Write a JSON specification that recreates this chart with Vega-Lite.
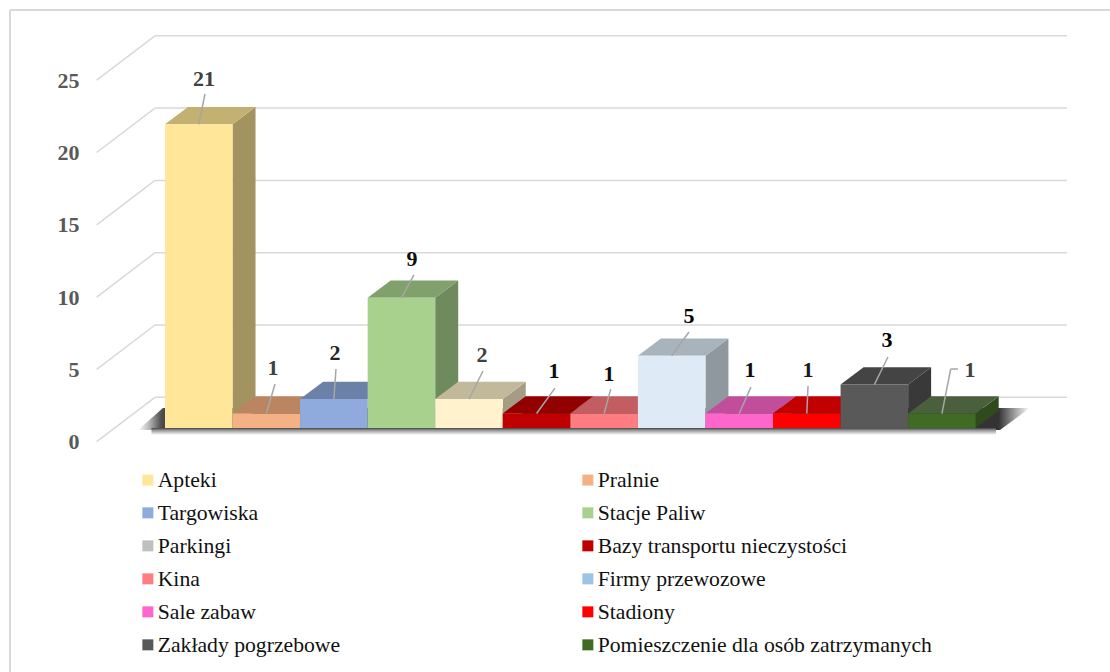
{"$schema":"https://vega.github.io/schema/vega-lite/v6.json","width":1110,"height":672,"padding":0,"autosize":{"type":"none"},"background":"white","config":{"view":{"stroke":null}},"data":{"values":[{"name":"Apteki","value":21},{"name":"Pralnie","value":1},{"name":"Targowiska","value":2},{"name":"Stacje Paliw","value":9},{"name":"Parkingi","value":2},{"name":"Bazy transportu nieczystości","value":1},{"name":"Kina","value":1},{"name":"Firmy przewozowe","value":5},{"name":"Sale zabaw","value":1},{"name":"Stadiony","value":1},{"name":"Zakłady pogrzebowe","value":3},{"name":"Pomieszczenie dla osób zatrzymanych","value":1}]},"transform":[{"window":[{"op":"row_number","as":"n"}]},{"calculate":"datum.n-1","as":"i"}],"resolve":{"scale":{"color":"independent"},"axis":{"y":"independent"}},"layer":[
{"data":{"values":[{"level":0},{"level":5},{"level":10},{"level":15},{"level":20},{"level":25}]},"transform":[{"calculate":"datum.level+2.123","as":"back"},{"calculate":"datum.level-0.947","as":"front"}],"mark":{"type":"rule","color":"#D9D9D9","strokeWidth":1.5},"encoding":{"x":{"datum":-0.148,"type":"quantitative","scale":{"domain":[-2.442,13.988],"nice":false,"zero":false},"axis":null},"x2":{"datum":13.35},"y":{"field":"back","type":"quantitative","title":null,"scale":{"domain":[-16.874,29.599],"nice":false,"zero":false},"axis":null}}},
{"data":{"values":[{"level":0},{"level":5},{"level":10},{"level":15},{"level":20},{"level":25}]},"transform":[{"calculate":"datum.level+2.123","as":"back"},{"calculate":"datum.level-0.947","as":"front"}],"mark":{"type":"rule","color":"#D9D9D9","strokeWidth":1.5},"encoding":{"x":{"datum":-1.011,"type":"quantitative","scale":{"domain":[-2.442,13.988],"nice":false,"zero":false},"axis":null},"x2":{"datum":-0.148},"y":{"field":"front","type":"quantitative","title":null,"scale":{"domain":[-16.874,29.599],"nice":false,"zero":false},"axis":null},"y2":{"field":"back"}}},
{"data":{"values":[{"f":1}]},"mark":{"type":"rule","color":"#D9D9D9","strokeWidth":2},"encoding":{"x":{"datum":-2.294,"type":"quantitative","scale":{"domain":[-2.442,13.988],"nice":false,"zero":false},"axis":null},"x2":{"datum":13.988},"y":{"datum":28.91,"type":"quantitative","scale":{"domain":[-16.874,29.599],"nice":false,"zero":false},"axis":null}}},
{"data":{"values":[{"f":1}]},"mark":{"type":"rule","color":"#D9D9D9","strokeWidth":2},"encoding":{"x":{"datum":-2.294,"type":"quantitative","scale":{"domain":[-2.442,13.988],"nice":false,"zero":false},"axis":null},"y":{"datum":28.91,"type":"quantitative","scale":{"domain":[-16.874,29.599],"nice":false,"zero":false},"axis":null},"y2":{"datum":-16.874}}},
{"data":{"values":[{"t":0},{"t":1}]},"transform":[{"calculate":"datum.t==0?-0.14:1.38","as":"sy"},{"calculate":"datum.t==0?-0.4:-0.03","as":"sx"},{"calculate":"datum.t==0?12.36:12.8","as":"sx2"}],"mark":{"type":"area","orient":"horizontal","color":{"gradient":"linear","x1":0,"y1":0,"x2":1,"y2":0,"stops":[{"offset":0,"color":"#ffffff"},{"offset":0.012,"color":"#bbbbbb"},{"offset":0.025,"color":"#555555"},{"offset":0.035,"color":"#333333"},{"offset":0.965,"color":"#333333"},{"offset":0.985,"color":"#aaaaaa"},{"offset":1,"color":"#ffffff"}]}},"encoding":{"x":{"field":"sx","type":"quantitative","scale":{"domain":[-2.442,13.988],"nice":false,"zero":false},"axis":null},"x2":{"field":"sx2"},"y":{"field":"sy","type":"quantitative","scale":{"domain":[-16.874,29.599],"nice":false,"zero":false},"axis":null}}},
{"data":{"values":[{"f":1}]},"mark":{"type":"rect","color":{"gradient":"linear","x1":0,"y1":0,"x2":0,"y2":1,"stops":[{"offset":0,"color":"#444444"},{"offset":0.35,"color":"#999999"},{"offset":1,"color":"#ffffff"}]}},"encoding":{"x":{"datum":-0.2,"type":"quantitative","scale":{"domain":[-2.442,13.988],"nice":false,"zero":false},"axis":null},"x2":{"datum":12.3},"y":{"datum":0,"type":"quantitative","scale":{"domain":[-16.874,29.599],"nice":false,"zero":false},"axis":null},"y2":{"datum":-0.48}}},
{"transform":[{"calculate":"[0,1]","as":"t"},{"flatten":["t"]},{"calculate":"datum.i+1+0.3404*datum.t","as":"px"},{"calculate":"datum.value+1.196*datum.t","as":"py"},{"calculate":"1.196*datum.t","as":"py2"}],"mark":{"type":"area","orient":"vertical"},"encoding":{"x":{"field":"px","type":"quantitative","scale":{"domain":[-2.442,13.988],"nice":false,"zero":false},"axis":null},"y":{"field":"py","type":"quantitative","scale":{"domain":[-16.874,29.599],"nice":false,"zero":false},"axis":null},"y2":{"field":"py2"},"color":{"field":"name","type":"nominal","legend":null,"scale":{"domain":["Apteki","Pralnie","Targowiska","Stacje Paliw","Parkingi","Bazy transportu nieczystości","Kina","Firmy przewozowe","Sale zabaw","Stadiony","Zakłady pogrzebowe","Pomieszczenie dla osób zatrzymanych"],"range":["#A39361","#9C714F","#5C6E8F","#6F8A5D","#A49C83","#7A0000","#A35052","#8F979F","#A3417F","#A30000","#393939","#2F4A1C"]}}}},
{"transform":[{"calculate":"[0,1]","as":"t"},{"flatten":["t"]},{"calculate":"datum.i+0.3404*datum.t","as":"px"},{"calculate":"datum.i+1+0.3404*datum.t","as":"px2"},{"calculate":"datum.value+1.196*datum.t","as":"py"}],"mark":{"type":"area","orient":"horizontal"},"encoding":{"x":{"field":"px","type":"quantitative","scale":{"domain":[-2.442,13.988],"nice":false,"zero":false},"axis":null},"x2":{"field":"px2"},"y":{"field":"py","type":"quantitative","scale":{"domain":[-16.874,29.599],"nice":false,"zero":false},"axis":null},"color":{"field":"name","type":"nominal","legend":null,"scale":{"domain":["Apteki","Pralnie","Targowiska","Stacje Paliw","Parkingi","Bazy transportu nieczystości","Kina","Firmy przewozowe","Sale zabaw","Stadiony","Zakłady pogrzebowe","Pomieszczenie dla osób zatrzymanych"],"range":["#C3B171","#BA8560","#6C81A8","#80A06C","#C2B89B","#920000","#C25E61","#A9B3BC","#C24E9B","#C20000","#444444","#4A5F3C"]}}}},
{"transform":[{"calculate":"datum.i+1","as":"i2"},{"calculate":"0","as":"base"}],"mark":{"type":"rect"},"encoding":{"x":{"field":"i","type":"quantitative","scale":{"domain":[-2.442,13.988],"nice":false,"zero":false},"axis":null},"x2":{"field":"i2"},"y":{"field":"value","type":"quantitative","title":null,"scale":{"domain":[-16.874,29.599],"nice":false,"zero":false},"axis":{"values":[0,5,10,15,20,25],"title":null,"domain":false,"ticks":false,"grid":false,"offset":-79,"labelPadding":0,"labelOffset":13.7,"labelFont":"Liberation Serif","labelFontWeight":"bold","labelFontSize":22,"labelColor":"#595959","labelOverlap":false,"labelAlign":"right","labelBaseline":"middle"}},"y2":{"field":"base"},"color":{"field":"name","type":"nominal","legend":null,"scale":{"domain":["Apteki","Pralnie","Targowiska","Stacje Paliw","Parkingi","Bazy transportu nieczystości","Kina","Firmy przewozowe","Sale zabaw","Stadiony","Zakłady pogrzebowe","Pomieszczenie dla osób zatrzymanych"],"range":["#FFE699","#F4B183","#8FAADC","#A9D18E","#FFF2CC","#C00000","#FF7C80","#DEEBF7","#FF66CC","#FF0000","#595959","#3F6B24"]}}}},
{"mark":{"type":"point","filled":true,"size":0},"encoding":{"color":{"field":"name","type":"nominal","scale":{"domain":["Apteki","Pralnie","Targowiska","Stacje Paliw","Parkingi","Bazy transportu nieczystości","Kina","Firmy przewozowe","Sale zabaw","Stadiony","Zakłady pogrzebowe","Pomieszczenie dla osób zatrzymanych"],"range":["#FFE699","#F4B183","#8FAADC","#A9D18E","#BFBFBF","#C00000","#FF7C80","#9DC3E6","#FF66CC","#FF0000","#595959","#3F6B24"]},"legend":{"title":null,"orient":"none","legendX":137,"legendY":469,"direction":"horizontal","columns":2,"columnPadding":236,"rowPadding":10,"symbolType":"square","symbolSize":121,"symbolStrokeWidth":0,"symbolOpacity":1,"labelFont":"Liberation Serif","labelFontSize":21.7,"labelColor":"#111111","labelOffset":-1,"labelLimit":500,"symbolLimit":12}}}},
{"transform":[{"calculate":"datum.i+0.5","as":"sx"},{"calculate":"datum.i+0.5+[0.092,0.129,0.031,0.185,0.207,0.272,0.098,0.256,0.173,0.018,0.201,0.13][datum.i]","as":"ex"},{"calculate":"datum.value+[2.10,2.04,2.08,1.59,1.94,1.76,1.69,1.64,1.83,1.90,1.91,3.08][datum.i]","as":"ey"}],"mark":{"type":"rule","color":"#A6A6A6","strokeWidth":1.5},"encoding":{"x":{"field":"sx","type":"quantitative","scale":{"domain":[-2.442,13.988],"nice":false,"zero":false},"axis":null},"x2":{"field":"ex"},"y":{"field":"value","type":"quantitative","scale":{"domain":[-16.874,29.599],"nice":false,"zero":false},"axis":null},"y2":{"field":"ey"}}},
{"transform":[{"filter":"datum.i==11"},{"calculate":"datum.i+0.5+0.13","as":"ex"},{"calculate":"datum.i+0.5+0.238","as":"ex2"},{"calculate":"datum.value+3.08","as":"ey"}],"mark":{"type":"rule","color":"#A6A6A6","strokeWidth":1.5},"encoding":{"x":{"field":"ex","type":"quantitative","scale":{"domain":[-2.442,13.988],"nice":false,"zero":false},"axis":null},"x2":{"field":"ex2"},"y":{"field":"ey","type":"quantitative","scale":{"domain":[-16.874,29.599],"nice":false,"zero":false},"axis":null}}},
{"transform":[{"calculate":"datum.i+0.5+[0.077,0.099,0.016,0.155,0.192,0.258,0.073,0.256,0.158,0.018,0.187,0.416][datum.i]","as":"lx"},{"calculate":"datum.value+[3.13,3.15,3.19,2.69,3.05,2.94,2.73,2.75,3.01,3.01,3.08,3.01][datum.i]","as":"ly"},{"calculate":"['#404040','#404040','#262626','#0D0D0D','#404040','#0D0D0D','#0D0D0D','#000000','#0D0D0D','#1A1A1A','#000000','#404040'][datum.i]","as":"tone"}],"mark":{"type":"text","font":"Liberation Serif","fontWeight":"bold","fontSize":22,"baseline":"middle","align":"center"},"encoding":{"x":{"field":"lx","type":"quantitative","scale":{"domain":[-2.442,13.988],"nice":false,"zero":false},"axis":null},"y":{"field":"ly","type":"quantitative","scale":{"domain":[-16.874,29.599],"nice":false,"zero":false},"axis":null},"text":{"field":"value","type":"quantitative"},"color":{"field":"tone","type":"nominal","scale":null,"legend":null}}}
]}
